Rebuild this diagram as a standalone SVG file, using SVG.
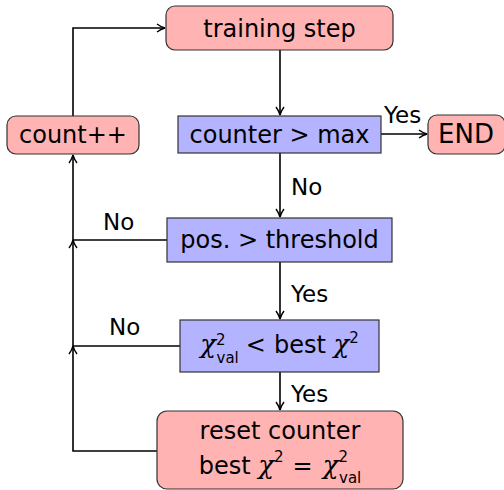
<svg xmlns="http://www.w3.org/2000/svg" width="504" height="490" viewBox="0 0 504 490">
<style>
.red{fill:#ffb3b3;stroke:#333;stroke-width:1.2}
.blue{fill:#b3b3ff;stroke:#333;stroke-width:1.2}
.t{font-family:"DejaVu Sans","Liberation Sans",sans-serif;font-size:24px;fill:#000;text-anchor:middle}
.l{font-family:"DejaVu Sans","Liberation Sans",sans-serif;font-size:23px;fill:#000}
.m{font-family:"DejaVu Serif","Liberation Serif",serif;font-style:italic;font-size:26px}
.s{font-size:15px}
.c{fill:none;stroke:#000;stroke-width:1.6}
</style>
<defs>
<marker id="a" viewBox="0 0 10 10" refX="9" refY="5" markerWidth="10" markerHeight="10" markerUnits="userSpaceOnUse" orient="auto">
<path d="M1,1 Q5,4 9,5 Q5,6 1,9" fill="none" stroke="#000" stroke-width="1.4"/>
</marker>
</defs>
<rect width="504" height="490" fill="#fff"/>
<g id="connectors">
<path class="c" d="M280,50 V115" marker-end="url(#a)"/>
<path class="c" d="M381,134 H427" marker-end="url(#a)"/>
<path class="c" d="M280,153 V217" marker-end="url(#a)"/>
<path class="c" d="M280,262 V319" marker-end="url(#a)"/>
<path class="c" d="M280,372 V410" marker-end="url(#a)"/>
<path class="c" d="M167,240 H73"/>
<path class="c" d="M180,346 H73"/>
<path class="c" d="M157,451 H73 V346" marker-end="url(#a)"/>
<path class="c" d="M73,346 V240" marker-end="url(#a)"/>
<path class="c" d="M73,240 V155" marker-end="url(#a)"/>
<path class="c" d="M73,116 V28 H165" marker-end="url(#a)"/>
<text class="l" x="384" y="123">Yes</text>
<text class="l" x="291" y="195">No</text>
<text class="l" x="291" y="302">Yes</text>
<text class="l" x="291" y="402">Yes</text>
<text class="l" x="103" y="230">No</text>
<text class="l" x="109" y="335">No</text>
</g>
<g id="training">
<rect class="red" x="166" y="6" width="227" height="44" rx="9"/>
<text class="t" x="279.5" y="37">training step</text>
</g>
<g id="counter">
<rect class="blue" x="178" y="116" width="203" height="37"/>
<text class="t" x="279.5" y="143">counter &gt; max</text>
</g>
<g id="end">
<rect class="red" x="428" y="115" width="77" height="39" rx="9"/>
<text class="t" x="466" y="143" style="font-size:26px">END</text>
</g>
<g id="count">
<rect class="red" x="7" y="116" width="132" height="38" rx="9"/>
<text class="t" x="73" y="143">count++</text>
</g>
<g id="pos">
<rect class="blue" x="167" y="218" width="225" height="44"/>
<text class="t" x="279.5" y="248">pos. &gt; threshold</text>
</g>
<g id="chi">
<rect class="blue" x="180" y="320" width="199" height="52"/>
<text class="t" x="279.5" y="353"><tspan class="m">χ</tspan><tspan class="s" dy="-8">2</tspan><tspan class="s" dx="-9" dy="18">val</tspan><tspan dx="7" dy="-10">&lt;</tspan><tspan dx="8">best </tspan><tspan class="m">χ</tspan><tspan class="s" dy="-10">2</tspan></text>
</g>
<g id="reset">
<rect class="red" x="157" y="411" width="246" height="78" rx="10"/>
<text class="t" x="280" y="439">reset counter</text>
<text class="t" x="280" y="474">best <tspan class="m">χ</tspan><tspan class="s" dy="-12">2</tspan><tspan dx="9" dy="12">=</tspan><tspan class="m" dx="10">χ</tspan><tspan class="s" dy="-12">2</tspan><tspan class="s" dx="-9" dy="21">val</tspan></text>
</g>
</svg>
